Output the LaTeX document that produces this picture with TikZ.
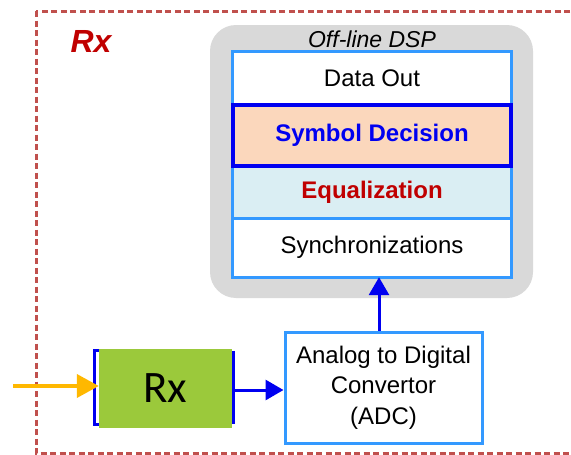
\documentclass[tikz,border=0pt]{standalone}
\usepackage{fontspec}
\setmainfont{Liberation Sans}
\newfontfamily\carlito{Carlito}
\usetikzlibrary{arrows.meta,calc}
\definecolor{bordred}{HTML}{C0504D}
\definecolor{dspgray}{HTML}{D9D9D9}
\definecolor{lblue}{HTML}{3399FF}
\definecolor{dblue}{HTML}{0000F0}
\definecolor{peach}{HTML}{FBD7BC}
\definecolor{iceblue}{HTML}{DAEEF3}
\definecolor{dred}{HTML}{C00000}
\definecolor{rxgreen}{HTML}{9BC93B}
\definecolor{inorange}{HTML}{FFB800}
\tikzset{
  rowbox/.style={minimum width=278pt, inner sep=0pt, font=\fontsize{24}{28}\selectfont},
  bluearrow/.style={draw=dblue, line width=3pt, -{Triangle[length=18pt,width=20pt]}},
}
\begin{document}
\begin{tikzpicture}[x=1pt,y=-1pt]
\useasboundingbox (0,0) rectangle (571,455);
% outer dashed frame
\draw[bordred, line width=3pt, dash pattern=on 6pt off 3.5pt] (36,11) rectangle (640,453);
\node[text=dred, font=\fontsize{32}{36}\selectfont\bfseries\itshape] (rxlabel) at (91,41) {Rx};
% DSP gray box
\fill[dspgray, rounded corners=26pt] (210,25) rectangle (533,298);
\node[font=\fontsize{23}{26}\selectfont\itshape] (dsptitle) at (372,39) {Off-line DSP};
% rows
\node[rowbox, fill=white, minimum height=53pt] (dataout) at (372,78.5) {Data Out};
\node[rowbox, fill=peach, minimum height=61pt, text=dblue, font=\fontsize{24}{28}\selectfont\bfseries] (symbol) at (372,135.5) {Symbol Decision};
\node[rowbox, fill=iceblue, minimum height=52pt, text=dred, font=\fontsize{24}{28}\selectfont\bfseries] (equal) at (372,192) {Equalization};
\node[rowbox, fill=white, minimum height=59pt] (sync) at (372,247.5) {Synchronizations};
\draw[lblue, line width=3pt] (dataout.north west) rectangle (sync.south east);
\draw[lblue, line width=3pt] (equal.south west) -- (equal.south east);
\draw[dblue, line width=3.5pt] (symbol.north west) rectangle (symbol.south east);
% ADC
\node[draw=lblue, line width=3pt, fill=white, minimum width=197pt, minimum height=111pt, align=center, font=\fontsize{24}{30.5}\selectfont] (adc) at (383.5,387.5) {Analog to Digital\\Convertor\\(ADC)};
% Rx block
\node[fill=rxgreen, minimum width=133pt, minimum height=79pt, inner sep=0pt, font=\fontsize{45}{50}\selectfont\carlito] (rx) at (165.5,388.5) {Rx};
\draw[dblue, line width=3pt] ($(rx.north west)+(0,2)$) -- ($(rx.north west)+(-4,2)$) -- ($(rx.south west)+(-4,-4)$) -- ($(rx.south west)+(0,-4)$);
\draw[dblue, line width=3pt] ($(rx.north east)+(1,2)$) -- ($(rx.south east)+(1,-4)$);
% connectors
\coordinate (inp) at (13,386);
\coordinate (rxout) at ($(rx.east)+(1,1.5)$);
\coordinate (adcup) at ($(adc.north)+(-4.5,0)$);
\draw[inorange, line width=4pt, -{Triangle[length=22pt,width=23pt]}] (inp) -- (inp -| rx.west);
\draw[bluearrow] (rxout) -- (rxout -| adc.west);
\draw[bluearrow] (adcup) -- (adcup |- sync.south);
\end{tikzpicture}
\end{document}
